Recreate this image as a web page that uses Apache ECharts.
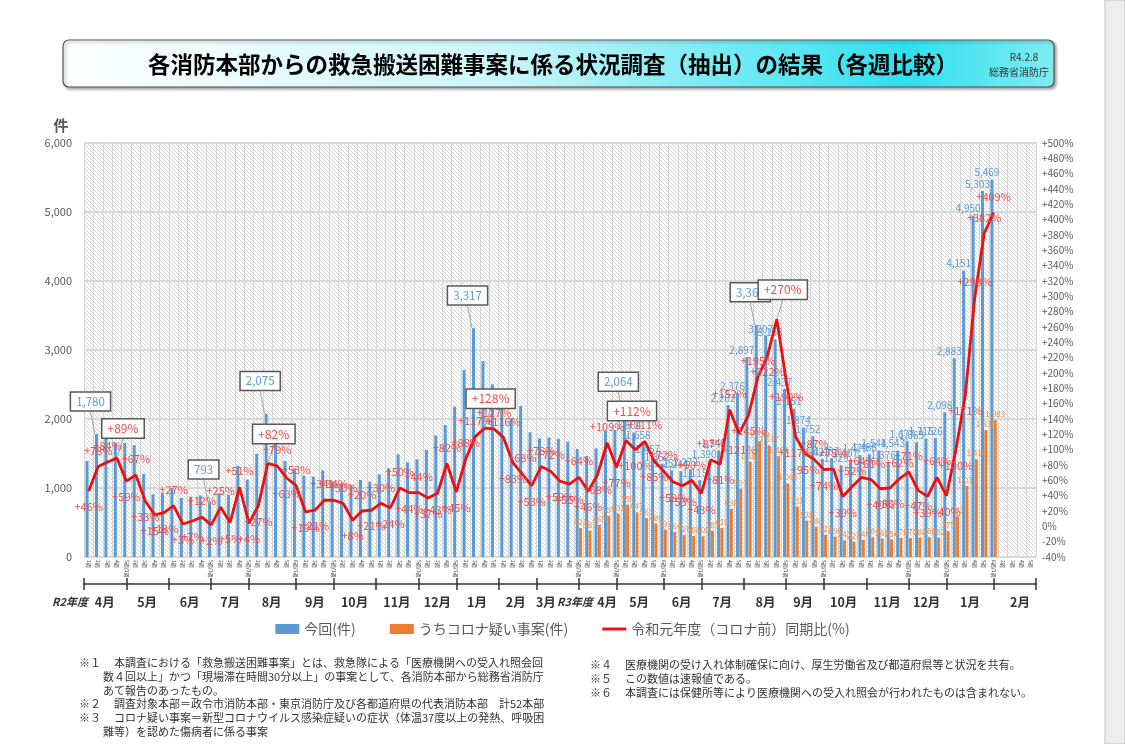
<!DOCTYPE html>
<html>
<head>
<meta charset="utf-8">
<title>救急搬送困難事案</title>
<script src="https://cdn.jsdelivr.net/npm/echarts@6/dist/echarts.min.js"></script>
<style>
  html, body { margin: 0; padding: 0; background: #fff; }
  #chart { width: 1125px; height: 744px; }
</style>
</head>
<body>
<div id="chart"></div>
<script>
  // 週ラベル（R2年度4月〜R3年度2月、101週）
  let weekLabels = [
    '1週','2週','3週','4週','5週/1週', '2週','3週','4週','5週',
    '1週','2週','3週','4週','5週/1週', '2週','3週','4週','5週/1週',
    '2週','3週','4週','5週','6週/1週', '2週','3週','4週','5週/1週',
    '2週','3週','4週','5週', '1週','2週','3週','4週','5週/1週',
    '2週','3週','4週','5週/1週', '2週','3週','4週','5週',
    '1週','2週','3週','4週', '1週','2週','3週','4週','5週/1週',
    '2週','3週','4週','5週/1週', '2週','3週','4週','5週','6週/1週',
    '2週','3週','4週','5週/1週', '2週','3週','4週','5週',
    '1週','2週','3週','4週','5週/1週', '2週','3週','4週','5週/1週',
    '2週','3週','4週','5週', '1週','2週','3週','4週','5週/1週',
    '2週','3週','4週','5週/1週', '2週','3週','4週','5週','6週/1週',
    '2週','3週','4週','5週'
  ];

  // 今回(件)
  let blueR2 = [1391, 1780, 1739, 1657, 1652, 1623, 1203, 908, 932, 1000, 855, 874, 894, 793, 923, 899,
    1319, 1121, 1493, 2075, 1792, 1391, 1285, 1179, 1164, 1256, 1092, 1068, 1043, 1116, 1092, 1198,
    1285, 1488, 1372, 1415, 1551, 1763, 1913, 2179, 2710, 3317, 2840, 2502, 2203, 2010, 2188, 1807,
    1720, 1729, 1710, 1670];
  let blueR3 = [1565, 1464, 1575, 1826, 1841, 2064, 1804, 1658, 1457, 1352, 1257, 1244, 1272, 1115,
    1390, 1545, 2202, 2376, 2897, 3361, 3207, 3153, 2437, 2151, 1874, 1752, 1423, 1433, 1329, 1407,
    1479, 1488, 1544, 1376, 1543, 1677, 1663, 1715, 1726, 2098, 2883, 4151, 4950, 5303, 5469];
  // うちコロナ疑い事案(件)
  let coronaR3 = [421, 383, 465, 597, 631, 759, 647, 563, 486, 397, 364, 320, 304, 300, 381, 419,
    698, 991, 1381, 1679, 1617, 1461, 1066, 731, 528, 440, 322, 296, 243, 223, 246, 284, 268, 254,
    276, 274, 280, 286, 282, 375, 591, 1031, 1416, 1838, 1983];
  // 令和元年度（コロナ前）同期比(%)
  let ratioR2 = [46, 78, 84, 89, 59, 67, 33, 15, 18, 27, 3, 7, 12, 2, 25, 5, 51, 4, 27, 82, 79, 63,
    53, 19, 21, 34, 34, 30, 8, 20, 21, 30, 24, 50, 44, 44, 37, 43, 82, 45, 88, 117, 128, 127, 116,
    83, 68, 53, 78, 72, 59, 55];
  let ratioR3 = [64, 46, 68, 109, 77, 112, 100, 111, 85, 72, 58, 53, 60, 43, 87, 81, 152, 121, 145,
    195, 222, 270, 190, 117, 95, 87, 74, 75, 39, 52, 64, 61, 49, 50, 62, 71, 47, 39, 64, 40, 100,
    171, 298, 382, 409];

  // 枠付きで表示する週
  let blueCallouts = [1, 13, 19, 41, 57, 71];
  let ratioCallouts = [3, 19, 42, 57, 73];

  // 月の区切り（週単位）と月ラベル
  let monthBounds = [0, 4.5, 9, 13.5, 17.5, 22.5, 26.5, 31, 35.5, 39.5, 44, 48, 52.5,
    56.5, 61.5, 65.5, 70, 74.5, 78.5, 83, 87.5, 91.5, 96.5, 101];
  let monthNames = ['R2年度', '4月', '5月', '6月', '7月', '8月', '9月', '10月', '11月', '12月', '1月', '2月', '3月',
    'R3年度', '4月', '5月', '6月', '7月', '8月', '9月', '10月', '11月', '12月', '1月', '2月'];
  let monthPos = [0, 2.2, 6.7, 11.2, 15.5, 19.9, 24.5, 28.7, 33.2, 37.5, 41.7, 45.8, 49.0,
    52.1, 55.5, 58.9, 63.4, 67.7, 72.3, 76.3, 80.6, 85.2, 89.4, 94.0, 99.3];

  let font = '"Noto Sans CJK JP", "Noto Sans", sans-serif';

  let blueAll = blueR2.concat(blueR3);
  let coronaAll = blueR2.map(function () { return null; }).concat(coronaR3);
  let ratioAll = ratioR2.concat(ratioR3);

  // 斜線の背景
  let canvas = document.createElement('canvas');
  canvas.width = canvas.height = 4;
  let ctx = canvas.getContext('2d');
  ctx.fillStyle = '#ffffff';
  ctx.fillRect(0, 0, 4, 4);
  ctx.strokeStyle = '#d4d4d4';
  ctx.lineWidth = 1;
  ctx.beginPath();
  ctx.moveTo(-1, -1); ctx.lineTo(5, 5);
  ctx.moveTo(-1, 3); ctx.lineTo(1, 5);
  ctx.moveTo(3, -1); ctx.lineTo(5, 1);
  ctx.stroke();

  let boxLabel = {
    backgroundColor: '#fff',
    borderColor: '#595959',
    borderWidth: 1.5,
    padding: [3, 5],
    fontSize: 11.5
  };

  let blueData = blueAll.map(function (v, i) {
    let item = { value: v, label: { show: i >= 57 } };
    if (blueCallouts.indexOf(i) >= 0) {
      item.label = Object.assign({ show: true, position: 'top' }, boxLabel);
      item.labelLine = { show: true };
    }
    return item;
  });

  let ratioData = ratioAll.map(function (v, i) {
    let prev = i > 0 ? ratioAll[i - 1] : v;
    let next = i < ratioAll.length - 1 ? ratioAll[i + 1] : v;
    let item = { value: v, label: { position: v < (prev + next) / 2 ? 'bottom' : 'top' } };
    if (ratioCallouts.indexOf(i) >= 0) {
      item.label = Object.assign({ position: 'top', distance: 6 }, boxLabel, { fontSize: 12 });
      item.labelLine = { show: true };
    }
    return item;
  });

  let footLeft = [
    ['※１', '本調査における「救急搬送困難事案」とは、救急隊による「医療機関への受入れ照会回'],
    ['', '数４回以上」かつ「現場滞在時間30分以上」の事案として、各消防本部から総務省消防庁'],
    ['', 'あて報告のあったもの。'],
    ['※２', '調査対象本部＝政令市消防本部・東京消防庁及び各都道府県の代表消防本部　計52本部'],
    ['※３', 'コロナ疑い事案＝新型コロナウイルス感染症疑いの症状（体温37度以上の発熱、呼吸困'],
    ['', '難等）を認めた傷病者に係る事案']
  ];
  let footRight = [
    ['※４', '医療機関の受け入れ体制確保に向け、厚生労働省及び都道府県等と状況を共有。'],
    ['※５', 'この数値は速報値である。'],
    ['※６', '本調査には保健所等により医療機関への受入れ照会が行われたものは含まれない。']
  ];
  let footFont = '11px ' + font;

  let graphics = [{
    type: 'rect',
    shape: { x: 1105, y: 0, width: 20, height: 744 },
    style: { fill: '#eeeeee', stroke: '#c4c4c4', lineWidth: 1 }
  }, {
    type: 'rect',
    shape: { x: 63, y: 40, width: 991, height: 47, r: 6 },
    style: {
      fill: new echarts.graphic.LinearGradient(0, 0, 1, 0, [
        { offset: 0, color: '#ffffff' },
        { offset: 0.45, color: '#c9f6fa' },
        { offset: 0.85, color: '#2fe0ee' },
        { offset: 1, color: '#7febf3' }
      ]),
      stroke: '#555',
      lineWidth: 1.2,
      shadowBlur: 3,
      shadowOffsetX: 2,
      shadowOffsetY: 2,
      shadowColor: 'rgba(0,0,0,0.35)'
    }
  }, {
    type: 'text', x: 553, y: 64,
    style: {
      text: '各消防本部からの救急搬送困難事案に係る状況調査（抽出）の結果（各週比較）',
      textAlign: 'center', textVerticalAlign: 'middle',
      font: 'bold 22.5px ' + font, fill: '#000'
    }
  }, {
    type: 'text', x: 1024, y: 57,
    style: { text: 'R4.2.8', textAlign: 'center', textVerticalAlign: 'middle', font: '10px ' + font, fill: '#333' }
  }, {
    type: 'text', x: 1019, y: 72,
    style: { text: '総務省消防庁', textAlign: 'center', textVerticalAlign: 'middle', font: '10px ' + font, fill: '#333' }
  }, {
    type: 'text', x: 61, y: 125,
    style: { text: '件', textAlign: 'center', textVerticalAlign: 'middle', font: 'bold 15px ' + font, fill: '#595959' }
  }];

  footLeft.forEach(function (row, k) {
    let y = 663 + k * 13.7;
    if (row[0]) {
      graphics.push({ type: 'text', x: 79, y: y, style: { text: row[0], textVerticalAlign: 'middle', font: footFont, fill: '#333' } });
    }
    graphics.push({ type: 'text', x: row[0] ? 114 : 103, y: y, style: { text: row[1], textVerticalAlign: 'middle', font: footFont, fill: '#333' } });
  });
  footRight.forEach(function (row, k) {
    let y = 665 + k * 13.7;
    graphics.push({ type: 'text', x: 590, y: y, style: { text: row[0], textVerticalAlign: 'middle', font: footFont, fill: '#333' } });
    graphics.push({ type: 'text', x: 625, y: y, style: { text: row[1], textVerticalAlign: 'middle', font: footFont, fill: '#333' } });
  });

  let ec = echarts.init(document.getElementById('chart'));

  let option = {
    animation: false,
    textStyle: { fontFamily: font },
    graphic: graphics,
    legend: {
      top: 617,
      left: 'center',
      itemWidth: 24,
      itemHeight: 10,
      itemGap: 34,
      textStyle: { fontSize: 14, color: '#595959' },
      data: [
        { name: '今回(件)', icon: 'rect' },
        { name: 'うちコロナ疑い事案(件)', icon: 'rect' },
        { name: '令和元年度（コロナ前）同期比(%)', icon: 'path://M0,0L40,0L40,5L0,5Z' }
      ]
    },
    grid: {
      left: 84,
      right: 89,
      top: 143,
      bottom: 187,
      show: true,
      borderWidth: 0,
      backgroundColor: { image: canvas, repeat: 'repeat' }
    },
    xAxis: [{
      type: 'category',
      data: weekLabels,
      axisLine: { lineStyle: { color: '#d9d9d9' } },
      axisTick: { show: false },
      axisLabel: { interval: 0, rotate: -90, fontSize: 5, color: '#404040', margin: 3 },
      splitLine: { show: true, interval: 0, lineStyle: { color: '#d6d6d6', width: 1 } }
    }, {
      type: 'value',
      min: 0,
      max: 101,
      position: 'bottom',
      offset: 27,
      axisLine: { show: true, onZero: false, lineStyle: { color: '#333', width: 1.5 } },
      axisTick: { show: true, customValues: monthBounds, length: 6, lineStyle: { color: '#333', width: 1.5 } },
      axisLabel: {
        customValues: monthPos,
        margin: 12,
        formatter: function (v) {
          let name = monthNames[monthPos.indexOf(v)];
          if (name === 'R2年度') return '{y0|' + name + '}';
          if (name === 'R3年度') return '{y|' + name + '}';
          return '{m|' + name + '}';
        },
        rich: {
          m: { fontSize: 12.5, fontWeight: 'bold', color: '#333' },
          y: { fontSize: 11, fontWeight: 'bold', fontStyle: 'italic', color: '#333' },
          y0: { fontSize: 11, fontWeight: 'bold', fontStyle: 'italic', color: '#333', padding: [0, 28, 0, 0] }
        }
      },
      splitLine: { show: false }
    }, {
      type: 'value',
      min: 0,
      max: 101,
      position: 'bottom',
      offset: 27,
      axisLine: { show: false, onZero: false },
      axisTick: { show: true, inside: true, customValues: monthBounds, length: 6, lineStyle: { color: '#333', width: 1.5 } },
      axisLabel: { show: false },
      splitLine: { show: false }
    }],
    yAxis: [{
      type: 'value',
      min: 0,
      max: 6000,
      interval: 1000,
      axisLine: { show: false },
      axisTick: { show: false },
      axisLabel: {
        color: '#595959',
        fontSize: 11,
        margin: 12,
        formatter: function (v) { return v.toLocaleString('en-US'); }
      },
      splitLine: { lineStyle: { color: '#d9d9d9', width: 2 } }
    }, {
      type: 'value',
      min: -40,
      max: 500,
      interval: 20,
      axisLine: { show: false },
      axisTick: { show: false },
      axisLabel: {
        color: '#595959',
        fontSize: 10,
        margin: 6,
        formatter: function (v) { return (v > 0 ? '+' : '') + v + '%'; }
      },
      splitLine: { show: false }
    }],
    series: [{
      name: '今回(件)',
      type: 'bar',
      barWidth: 3,
      barGap: '10%',
      itemStyle: { color: '#5b9bd5' },
      label: {
        position: 'top',
        distance: 2,
        color: '#5b9bd5',
        fontSize: 10,
        formatter: function (p) { return p.value.toLocaleString('en-US'); }
      },
      labelLine: { lineStyle: { color: '#a6a6a6', width: 1 } },
      labelLayout: function (p) {
        if (blueCallouts.indexOf(p.dataIndex) >= 0) return { dx: -6, dy: -22 };
        return { dx: -5 };
      },
      data: blueData
    }, {
      name: 'うちコロナ疑い事案(件)',
      type: 'bar',
      barWidth: 3,
      itemStyle: { color: '#ed7d31' },
      label: {
        show: true,
        position: 'top',
        distance: 2,
        color: '#ef8d4a',
        fontSize: 8,
        formatter: function (p) { return p.value == null ? '' : p.value.toLocaleString('en-US'); }
      },
      data: coronaAll
    }, {
      name: '令和元年度（コロナ前）同期比(%)',
      type: 'line',
      yAxisIndex: 1,
      symbol: 'circle',
      symbolSize: 1,
      showSymbol: true,
      z: 5,
      itemStyle: { color: '#ee0f0f' },
      lineStyle: { color: '#ee0f0f', width: 2.8 },
      label: {
        show: true,
        color: '#f24b4b',
        fontSize: 11,
        distance: 10,
        formatter: function (p) { return '+' + p.value + '%'; }
      },
      labelLine: { lineStyle: { color: '#a6a6a6', width: 1 } },
      labelLayout: function (p) {
        if (ratioCallouts.indexOf(p.dataIndex) >= 0) return { dx: 6, dy: -14 };
      },
      data: ratioData
    }]
  };

  ec.setOption(option);
</script>
</body>
</html>
